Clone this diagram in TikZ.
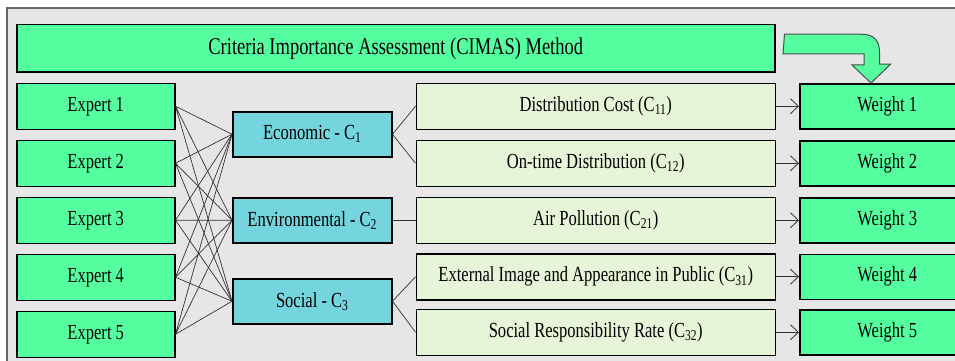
\documentclass[tikz,border=0pt]{standalone}
\usepackage{fontspec}
\setmainfont{Liberation Serif}[FakeStretch=0.77]
\usetikzlibrary{positioning,calc,arrows.meta}
\definecolor{mintgreen}{RGB}{85,255,160}
\definecolor{critblue}{RGB}{116,213,222}
\definecolor{palegreen}{RGB}{230,244,216}
\definecolor{bggray}{RGB}{230,230,230}

\begin{document}
\begin{tikzpicture}
  [x=1pt, y=-1pt,
   box/.style={
     draw,
     line width=1.5pt,
     inner sep=0pt,
     align=center,
     minimum height=46pt,
     font=\fontsize{21.5}{24}\selectfont
     },
   expert/.style={box, fill=mintgreen, minimum width=158pt},
   criterion/.style={box, fill=critblue, minimum width=159pt, minimum height=45pt},
   subcrit/.style={box, fill=palegreen, minimum width=359pt},
   weight/.style={box, fill=mintgreen, minimum width=175pt, minimum height=45pt},
   link/.style={line width=0.7pt, black!80},
   flow/.style={line width=0.8pt, black!80, -{Straight Barb[length=8pt,width=15pt]}}
  ]
  \useasboundingbox (0,0) rectangle (955,361);
  \clip (0,0) rectangle (955,361);
  \draw[fill=bggray, draw=gray!80!black, line width=1.2pt] (7,8) rectangle (975,380);

  \node [box, fill=mintgreen, minimum width=758pt, minimum height=47pt,
    font=\fontsize{24}{28}\selectfont, anchor=north west]
    at (16,24) (title) {Criteria Importance Assessment (CIMAS) Method};

  % esperti
  \node [expert, below=10pt of title.south west, anchor=north west] (expert1) {Expert 1};
  \node [expert, below=9.5pt of expert1] (expert2) {Expert 2};
  \node [expert, below=9.5pt of expert2] (expert3) {Expert 3};
  \node [expert, below=9.5pt of expert3] (expert4) {Expert 4};
  \node [expert, below=9.5pt of expert4] (expert5) {Expert 5};

  % criteri
  \node [criterion, right=56.5pt of expert3] (environmental) {Environmental - C\textsubscript{2}};
  \node [criterion, above=39.5pt of environmental] (economic) {Economic - C\textsubscript{1}};
  \node [criterion, below=34.5pt of environmental] (social) {Social - C\textsubscript{3}};

  % sottocriteri
  \node [subcrit, right=23pt of {$(economic.east |- expert1.east)$}, anchor=west] (distcost)
    {Distribution Cost (C\textsubscript{11})};
  \node [subcrit, below=9.5pt of distcost] (ontime) {On-time Distribution (C\textsubscript{12})};
  \node [subcrit, below=9.5pt of ontime] (airpoll) {Air Pollution (C\textsubscript{21})};
  \node [subcrit, below=9pt of airpoll] (extimage)
    {External Image and Appearance in Public (C\textsubscript{31})};
  \node [subcrit, below=8pt of extimage] (socresp) {Social Responsibility Rate (C\textsubscript{32})};

  % pesi
  \node [weight, right=23pt of distcost.east, anchor=west] (weight1) {Weight 1};
  \node [weight, right=23pt of ontime.east, anchor=west] (weight2) {Weight 2};
  \node [weight, right=23pt of airpoll.east, anchor=west] (weight3) {Weight 3};
  \node [weight, right=23pt of extimage.east, anchor=west] (weight4) {Weight 4};
  \node [weight, right=23pt of socresp.east, anchor=west] (weight5) {Weight 5};

  % freccia curva
  \coordinate (bendstart) at ($(title.east) + (9,-14)$);
  \draw[fill=mintgreen, draw=gray!60!black, line width=1pt]
    (bendstart) -- ++(77,0) .. controls ++(12,0) and ++(0,-12) .. ++(18,18)
    -- ++(0,12) -- ++(11,0) -- (weight1.north -| 871,0) -- ++(-19,-18) -- ++(12,0)
    -- ++(0,-11) -- ++(-81,0) -- cycle;

  % esperti - criteri
  \draw[link] (expert1.east) -- (economic.west) (expert1.east) -- (environmental.west) (expert1.east) -- (social.west);
  \draw[link] (expert2.east) -- (economic.west) (expert2.east) -- (environmental.west) (expert2.east) -- (social.west);
  \draw[link] (expert3.east) -- (economic.west) (expert3.east) -- (environmental.west) (expert3.east) -- (social.west);
  \draw[link] (expert4.east) -- (economic.west) (expert4.east) -- (environmental.west) (expert4.east) -- (social.west);
  \draw[link] (expert5.east) -- (economic.west) (expert5.east) -- (environmental.west) (expert5.east) -- (social.west);

  % criteri - sottocriteri
  \draw[link] (economic.east) -- (distcost.west) (economic.east) -- (ontime.west);
  \draw[link] (environmental.east) -- (airpoll.west);
  \draw[link] (social.east) -- (extimage.west) (social.east) -- (socresp.west);

  % sottocriteri - pesi
  \draw[flow] (distcost) -- (weight1);
  \draw[flow] (ontime) -- (weight2);
  \draw[flow] (airpoll) -- (weight3);
  \draw[flow] (extimage) -- (weight4);
  \draw[flow] (socresp) -- (weight5);
\end{tikzpicture}
\end{document}
